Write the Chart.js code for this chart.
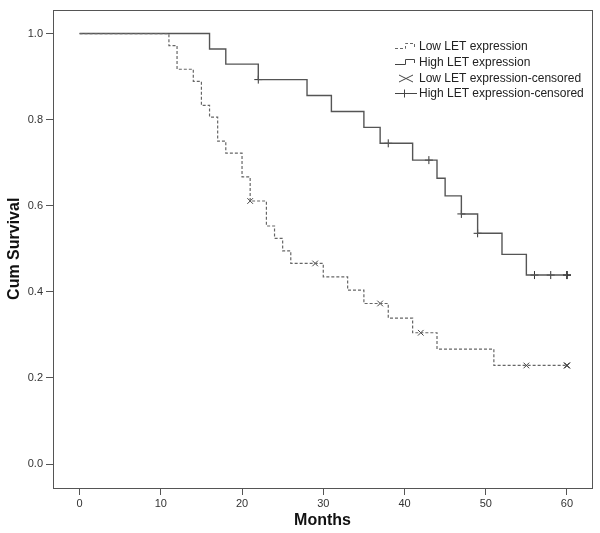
<!DOCTYPE html>
<html>
<head>
<meta charset="utf-8">
<script src="https://cdn.jsdelivr.net/npm/chart.js@4.4.1/dist/chart.umd.min.js"></script>
<style>
    html, body { margin: 0; padding: 0; background: #fff; }
    #box { width: 600px; height: 533px; }
</style>
</head>
<body>
<div id="box"><canvas id="kmChart"></canvas></div>
<script>
// tick labels
const xTicks = [0, 10, 20, 30, 40, 50, 60];
const yTicks = [0, 0.2, 0.4, 0.6, 0.8, 1.0];

// Low LET expression (step curve)
const lowMonths = [0, 11, 12, 14, 15, 16, 17, 18, 20, 21, 23, 24, 25, 26, 30, 33, 35, 38, 41, 44, 51, 60];
const lowSurv = [1, 0.972, 0.917, 0.889, 0.833, 0.806, 0.75, 0.722, 0.667, 0.611, 0.553, 0.524, 0.495, 0.466, 0.435, 0.404, 0.373, 0.339, 0.305, 0.267, 0.229, 0.229];

// High LET expression (step curve)
const highMonths = [0, 16, 18, 22, 28, 31, 35, 37, 41, 44, 45, 47, 49, 52, 55, 60];
const highSurv = [1, 0.964, 0.929, 0.893, 0.856, 0.819, 0.782, 0.745, 0.706, 0.664, 0.623, 0.581, 0.536, 0.487, 0.439, 0.439];

// censored cases
const lowCensMonths = [21, 29, 37, 42, 55, 60, 60, 60];
const lowCensSurv = [0.611, 0.466, 0.373, 0.305, 0.229, 0.229, 0.229, 0.229];
const highCensMonths = [22, 38, 43, 47, 49, 56, 58, 60, 60, 60];
const highCensSurv = [0.893, 0.745, 0.706, 0.581, 0.536, 0.439, 0.439, 0.439, 0.439, 0.439];

const legendLabels = ['Low LET expression', 'High LET expression', 'Low LET expression-censored', 'High LET expression-censored'];

function toPoints(xs, ys) {
    return xs.map(function (x, i) { return { x: x, y: ys[i] }; });
}

document.addEventListener("DOMContentLoaded", function () {
    //S 프레임 + 범례
    const framePlugin = {
        id: 'frame',
        afterDatasetsDraw: function (chart) {
            const c = chart.ctx;
            const a = chart.chartArea;
            c.save();
            c.strokeStyle = '#555';
            c.lineWidth = 1;
            c.strokeRect(Math.round(a.left) + 0.5, Math.round(a.top) + 0.5, Math.round(a.right - a.left), Math.round(a.bottom - a.top));

            // legend symbols
            c.lineWidth = 1;
            c.strokeStyle = '#666';
            c.setLineDash([3, 2]);
            c.beginPath();
            c.moveTo(395, 48.5); c.lineTo(405.5, 48.5); c.lineTo(405.5, 43.5); c.lineTo(414.5, 43.5); c.lineTo(414.5, 47);
            c.stroke();
            c.setLineDash([]);
            c.strokeStyle = '#444';
            c.beginPath();
            c.moveTo(395, 64.5); c.lineTo(405.5, 64.5); c.lineTo(405.5, 59.5); c.lineTo(414.5, 59.5); c.lineTo(414.5, 63);
            c.stroke();
            c.beginPath();
            c.moveTo(399, 75); c.lineTo(413, 82);
            c.moveTo(399, 82); c.lineTo(413, 75);
            c.stroke();
            c.beginPath();
            c.moveTo(395, 93.5); c.lineTo(417, 93.5);
            c.moveTo(404.5, 89.5); c.lineTo(404.5, 97.5);
            c.stroke();

            c.fillStyle = '#222';
            c.font = '12px "Liberation Sans", Arial, sans-serif';
            c.textBaseline = 'middle';
            c.textAlign = 'left';
            const ys = [46.5, 62.5, 78.5, 94];
            legendLabels.forEach(function (t, i) {
                c.fillText(t, 419, ys[i]);
            });
            c.restore();
        }
    };
    //E 프레임 + 범례

    const ctx = document.getElementById('kmChart').getContext('2d');
    const kmChart = new Chart(ctx, {
        type: 'scatter',
        data: {
            datasets: [{
                label: legendLabels[0],
                data: toPoints(lowMonths, lowSurv),
                showLine: true,
                stepped: true,
                borderColor: '#666',
                borderWidth: 1.2,
                borderDash: [3, 2],
                pointRadius: 0
            }, {
                label: legendLabels[1],
                data: toPoints(highMonths, highSurv),
                showLine: true,
                stepped: true,
                borderColor: '#555',
                borderWidth: 1.4,
                pointRadius: 0
            }, {
                label: legendLabels[2],
                data: toPoints(lowCensMonths, lowCensSurv),
                pointStyle: 'crossRot',
                pointRadius: 4,
                borderColor: '#444',
                borderWidth: 1
            }, {
                label: legendLabels[3],
                data: toPoints(highCensMonths, highCensSurv),
                pointStyle: 'cross',
                pointRadius: 4,
                borderColor: '#333',
                borderWidth: 1
            }]
        },
        options: {
            responsive: true,
            maintainAspectRatio: false,
            animation: false,
            layout: {
                padding: { top: 9, right: 8, left: 0, bottom: 0 }
            },
            plugins: {
                legend: { display: false },
                tooltip: { enabled: false }
            },
            scales: {
                x: {
                    type: 'linear',
                    min: -3.27,
                    max: 63.08,
                    afterFit: function (s) { s.height = 45; },
                    afterBuildTicks: function (s) { s.ticks = xTicks.map(function (v) { return { value: v }; }); },
                    border: { display: false },
                    grid: { display: true, drawOnChartArea: false, drawTicks: true, tickLength: 7, color: '#555' },
                    ticks: {
                        padding: 2,
                        color: '#333',
                        font: { family: '"Liberation Sans", Arial, sans-serif', size: 11 }
                    },
                    title: {
                        display: true,
                        text: 'Months',
                        color: '#111',
                        padding: { top: 0, bottom: 3 },
                        font: { family: '"Liberation Sans", Arial, sans-serif', size: 16, weight: 'bold' }
                    }
                },
                y: {
                    min: -0.0556,
                    max: 1.0556,
                    afterFit: function (s) { s.width = 53; },
                    afterBuildTicks: function (s) { s.ticks = yTicks.map(function (v) { return { value: v }; }); },
                    border: { display: false },
                    grid: { display: true, drawOnChartArea: false, drawTicks: true, tickLength: 7, color: '#555' },
                    ticks: {
                        padding: 3,
                        color: '#333',
                        font: { family: '"Liberation Sans", Arial, sans-serif', size: 11 },
                        callback: function (v) { return Number(v).toFixed(1); }
                    },
                    title: {
                        display: true,
                        text: 'Cum Survival',
                        color: '#111',
                        padding: { top: 5, bottom: 0 },
                        font: { family: '"Liberation Sans", Arial, sans-serif', size: 16, weight: 'bold' }
                    }
                }
            }
        },
        plugins: [framePlugin]
    });
});
</script>
</body>
</html>
